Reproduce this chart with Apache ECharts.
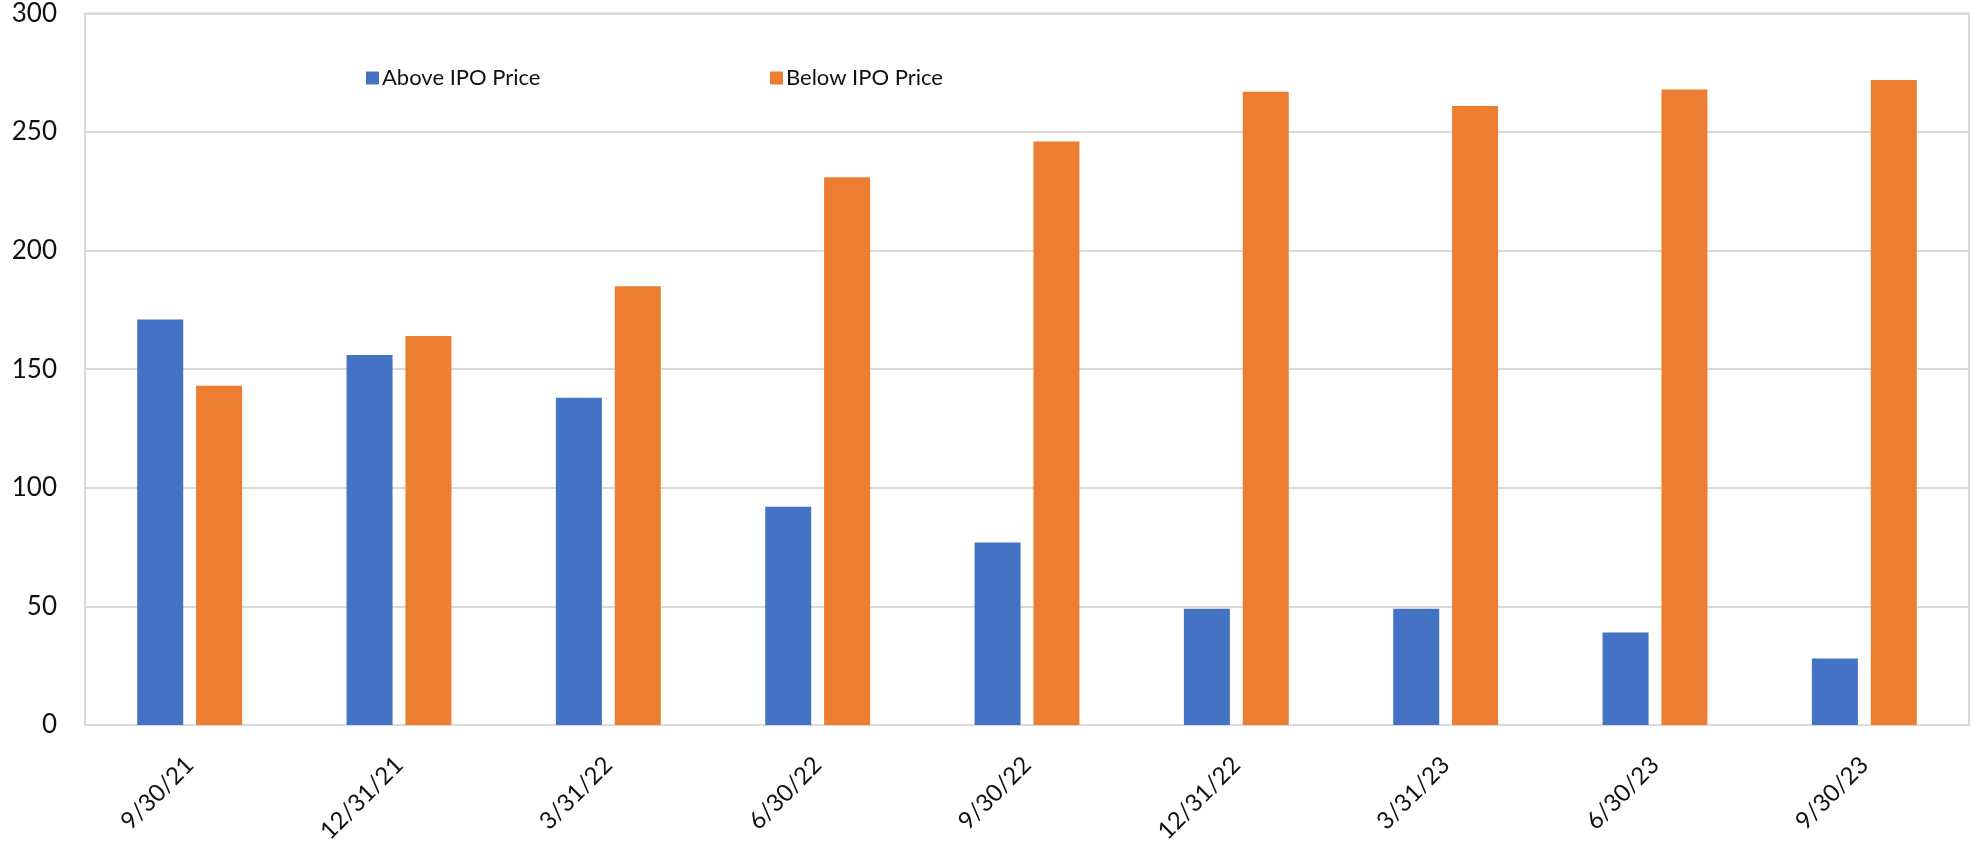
<!DOCTYPE html>
<html>
<head>
<meta charset="utf-8">
<script src="https://cdn.jsdelivr.net/npm/echarts@6/dist/echarts.min.js"></script>
<style>
  html, body { margin: 0; padding: 0; background: #ffffff; }
  #chart { width: 1972px; height: 846px; }
</style>
</head>
<body>
<div id="chart"></div>
<script>
// Quarter-end dates
const categories = ['9/30/21', '12/31/21', '3/31/22', '6/30/22', '9/30/22', '12/31/22', '3/31/23', '6/30/23', '9/30/23'];
// Number of companies trading above their IPO price
const aboveIPO = [171, 156, 138, 92, 77, 49, 49, 39, 28];
// Number of companies trading below their IPO price
const belowIPO = [143, 164, 185, 231, 246, 267, 261, 268, 272];
// Value axis ticks
const yMin = 0, yMax = 300, yStep = 50;

const FONT = 'Lato, "Open Sans", sans-serif';
const GRID_COLOR = '#d9d9d9';
const TEXT_COLOR = '#111111';

const chart = echarts.init(document.getElementById('chart'), null, { renderer: 'canvas' });

chart.setOption({
  backgroundColor: '#ffffff',
  animation: false,
  textStyle: { fontFamily: FONT },
  grid: {
    left: 85, right: 3, top: 13.5, bottom: 119.5,
    show: true,
    borderColor: GRID_COLOR,
    borderWidth: 2,
    containLabel: false
  },
  legend: [
    {
      data: ['Above IPO Price'],
      left: 361, top: 62,
      itemWidth: 13, itemHeight: 13, itemGap: 4, icon: 'rect',
      textStyle: { fontFamily: FONT, fontSize: 22, color: TEXT_COLOR, padding: [0, 0, 0, -2] }
    },
    {
      data: ['Below IPO Price'],
      left: 765, top: 62,
      itemWidth: 13, itemHeight: 13, itemGap: 4, icon: 'rect',
      textStyle: { fontFamily: FONT, fontSize: 22, color: TEXT_COLOR, padding: [0, 0, 0, -2] }
    }
  ],
  xAxis: {
    type: 'category',
    data: categories,
    axisLine: { show: true, lineStyle: { color: GRID_COLOR, width: 2 } },
    axisTick: { show: false },
    axisLabel: {
      rotate: 45,
      margin: 36,
      fontFamily: FONT,
      fontSize: 24,
      color: TEXT_COLOR
    }
  },
  yAxis: {
    type: 'value',
    min: yMin, max: yMax, interval: yStep,
    axisLine: { show: true, lineStyle: { color: GRID_COLOR, width: 2 } },
    axisTick: { show: false },
    splitLine: { lineStyle: { color: GRID_COLOR, width: 2 } },
    axisLabel: {
      margin: 28,
      fontFamily: FONT,
      fontSize: 26,
      color: TEXT_COLOR
    }
  },
  series: [
    {
      name: 'Above IPO Price',
      type: 'bar',
      data: aboveIPO,
      barWidth: 46,
      barGap: '28%',
      itemStyle: { color: '#4472C4' }
    },
    {
      name: 'Below IPO Price',
      type: 'bar',
      data: belowIPO,
      barWidth: 46,
      barGap: '28%',
      itemStyle: { color: '#ED7D31' }
    }
  ]
});
</script>
</body>
</html>
